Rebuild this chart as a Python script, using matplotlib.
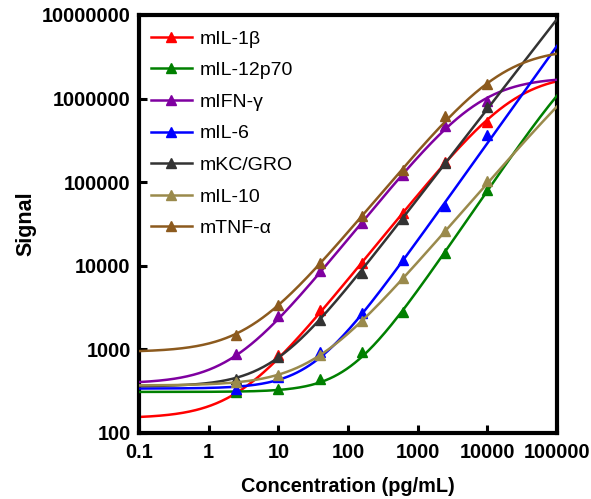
import numpy as np
import matplotlib
matplotlib.use("Agg")
import matplotlib.pyplot as plt

# Concentracoes dos padroes (diluicao seriada 1:4)
concentracoes = [2.44, 9.77, 39.06, 156.25, 625, 2500, 10000]

# Sinais medidos de cada analito
nomes = ["mIL-1\u03b2", "mIL-12p70", "mIFN-\u03b3", "mIL-6",
         "mKC/GRO", "mIL-10", "mTNF-\u03b1"]
sinal_il1b = [325, 849, 2994, 10860, 42700, 173000, 532000]
sinal_il12 = [308, 334, 440, 920, 2830, 14300, 80400]
sinal_ifng = [870, 2540, 8700, 32500, 121000, 464000, 946000]
sinal_il6 = [334, 464, 920, 2750, 11800, 51800, 363000]
sinal_kc = [440, 803, 2270, 8260, 36300, 168000, 803000]
sinal_il10 = [405, 490, 849, 2210, 7190, 26100, 103000]
sinal_tnfa = [1470, 3440, 10900, 39400, 139000, 611000, 1510000]

# Parametros do ajuste 4PL: base, topo, EC50, inclinacao
base = [150, 310, 390, 340, 360, 370, 930]
topo = [2.0e6, 6.0e6, 1.8e6, 1e9, 1e9, 8.2e6, 4.0e6]
ec50 = [25060, 346000, 7646, 1.07e7, 7.9e6, 1.01e6, 16260]
hill = [1.03, 1.22, 1.03, 1.167, 1.078, 0.96, 1.0]

cores = ["#ff0000", "#008000", "#7f00a0", "#0000ff",
         "#333333", "#9a8a4c", "#8c5a1e"]


def curva_4pl(x, a, d, c, b):
    r = (x / c) ** b
    return a + (d - a) * r / (1 + r)


plt.rcParams["font.family"] = ["Liberation Sans", "DejaVu Sans"]

fig = plt.figure(figsize=(5.91, 4.99), dpi=100)
ax = fig.add_axes([139 / 591, 1 - 433 / 499, 418 / 591, 418 / 499])

sinais = [sinal_il1b, sinal_il12, sinal_ifng, sinal_il6,
          sinal_kc, sinal_il10, sinal_tnfa]
x_curva = np.logspace(-1, 5, 400)

for i, sinal in enumerate(sinais):
    y_curva = curva_4pl(x_curva, base[i], topo[i], ec50[i], hill[i])
    ax.plot(x_curva, y_curva, color=cores[i], lw=1.8, zorder=2 + i)
    ax.plot(concentracoes, sinal, ls="none", marker="^", ms=7.5,
            color=cores[i], zorder=2 + i)
    # entrada da legenda (linha + marcador)
    ax.plot([], [], color=cores[i], lw=1.8, marker="^", ms=7, label=nomes[i])

ax.set_xscale("log")
ax.set_yscale("log")
ax.set_xlim(0.1, 100000)
ax.set_ylim(100, 10000000)

xt = [0.1, 1, 10, 100, 1000, 10000, 100000]
yt = [100, 1000, 10000, 100000, 1000000, 10000000]
ax.set_xticks(xt)
ax.set_xticklabels(["0.1", "1", "10", "100", "1000", "10000", "100000"])
ax.set_yticks(yt)
ax.set_yticklabels([str(v) for v in yt])
ax.minorticks_off()

ax.tick_params(direction="in", length=6, width=2.2, labelsize=14.3, pad=6)
ax.tick_params(axis="x", pad=7)
for lab in ax.get_xticklabels() + ax.get_yticklabels():
    lab.set_fontweight("bold")
for spine in ax.spines.values():
    spine.set_linewidth(3)

ax.set_xlabel("Concentration (pg/mL)", fontsize=14.3, fontweight="bold", labelpad=11)
ax.set_ylabel("Signal", fontsize=15.5, fontweight="bold", labelpad=4)

ax.legend(loc="upper left", bbox_to_anchor=(151 / 591, 1 - 30 / 499),
          bbox_transform=fig.transFigure, frameon=False, fontsize=14,
          handlelength=2.1, handletextpad=0.4, labelspacing=0.72,
          borderpad=0, borderaxespad=0)

fig.savefig("out.png", dpi=100)
